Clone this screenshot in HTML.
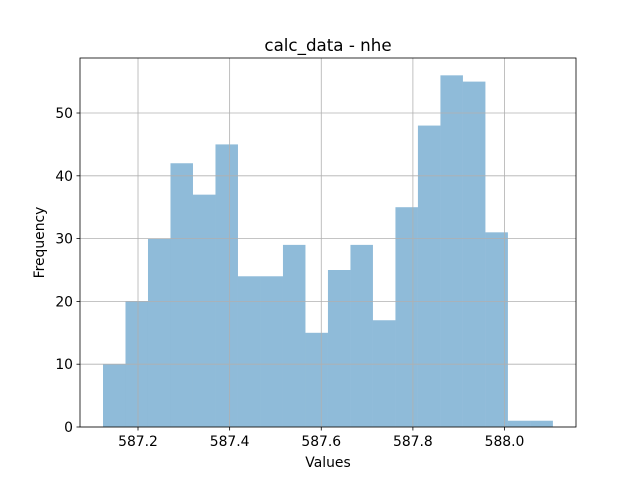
<!DOCTYPE html>
<html><head><meta charset="utf-8"><style>body{margin:0;background:#fff}svg{display:block;font-family:"DejaVu Sans","Liberation Sans",sans-serif}</style></head>
<body>
<svg id="chart" width="640" height="480"></svg>
<script>
const binStart = 587.1236;
const binWidth = 0.0491;
const counts = [10,20,30,42,37,45,24,24,29,15,25,29,17,35,48,56,55,31,1,1];
const xTicks = [587.2,587.4,587.6,587.8,588.0];
const xTickLabels = ["587.2","587.4","587.6","587.8","588.0"];
const yTicks = [0,10,20,30,40,50];
const xMin = 587.0734, xMax = 588.156, yMax = 58.76;
const L=80,R=576,T=58,B=427;
const sx = v => L + (v - xMin) / (xMax - xMin) * (R - L);
const sy = v => B - v / yMax * (B - T);
const NS="http://www.w3.org/2000/svg";
const svg=document.getElementById('chart');
function mk(tag,attrs,parent){const e=document.createElementNS(NS,tag);for(const k in attrs)e.setAttribute(k,attrs[k]);(parent||svg).appendChild(e);return e;}
const bars=mk('g',{});


counts.forEach((c,i)=>{
  const x0=sx(binStart+i*binWidth), x1=sx(binStart+(i+1)*binWidth);
  const r=mk('rect',{x:x0,y:sy(c),width:x1-x0,height:sy(0)-sy(c),fill:'#1f77b4','fill-opacity':0.5},bars);
  
  
});
const grid=mk('g',{stroke:'#b0b0b0','stroke-width':0.8});


xTicks.forEach(v=>mk('line',{x1:sx(v),x2:sx(v),y1:T,y2:B},grid));
yTicks.forEach(v=>mk('line',{x1:L,x2:R,y1:sy(v),y2:sy(v)},grid));
const frame=mk('rect',{x:L,y:T,width:R-L,height:B-T,fill:'none',stroke:'#000','stroke-width':0.8});


xTicks.forEach((v,i)=>{
  mk('line',{x1:sx(v),x2:sx(v),y1:B,y2:B+3.5,stroke:'#000','stroke-width':0.8});
  const t=mk('text',{x:sx(v),y:B+19,'text-anchor':'middle','font-size':13.9,fill:'#000'});
  t.textContent=xTickLabels[i];
  
  
});
yTicks.forEach(v=>{
  mk('line',{x1:L-3.5,x2:L,y1:sy(v),y2:sy(v),stroke:'#000','stroke-width':0.8});
  const t=mk('text',{x:L-7,y:sy(v)+5,'text-anchor':'end','font-size':13.9,fill:'#000'});
  t.textContent=v;
  
  
});
const title=mk('text',{x:(L+R)/2,y:51,'text-anchor':'middle','font-size':16.7});
title.textContent='calc_data - nhe';


const xl=mk('text',{x:(L+R)/2,y:467,'text-anchor':'middle','font-size':13.9});
xl.textContent='Values';


const yl=mk('text',{x:44,y:(T+B)/2,'text-anchor':'middle','font-size':13.9,transform:'rotate(-90 44 '+((T+B)/2)+')'});
yl.textContent='Frequency';


</script>
</body></html>
